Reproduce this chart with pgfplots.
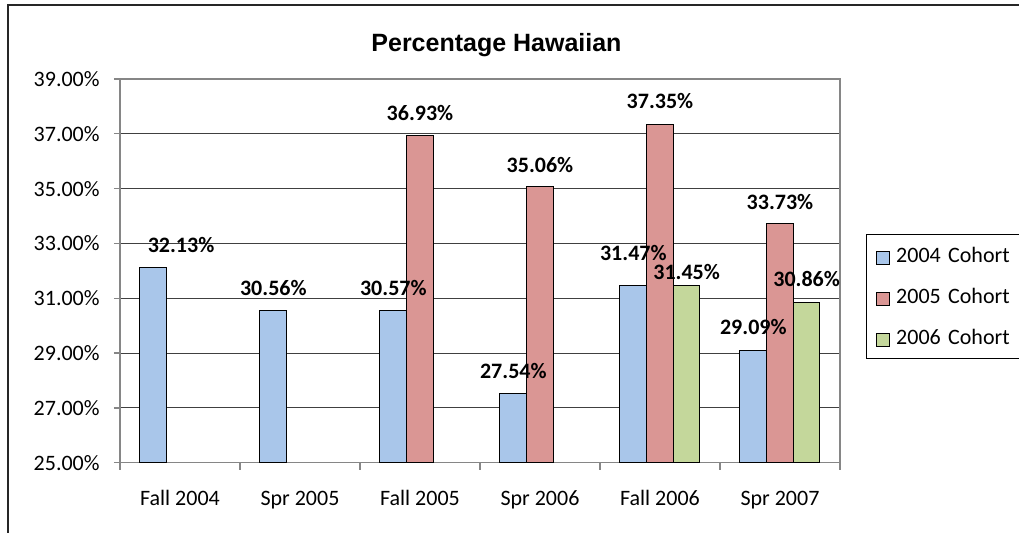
\documentclass[border=0pt]{standalone}
\usepackage{pgfplots}
\pgfplotsset{compat=1.18}
\usepackage{fontspec}
\setmainfont{Carlito}
\newfontfamily\arialfont{Liberation Sans}
\definecolor{cblue}{RGB}{169,198,234}
\definecolor{cred}{RGB}{218,150,148}
\definecolor{cgreen}{RGB}{196,215,155}
\definecolor{axgray}{RGB}{134,134,134}
\definecolor{gridc}{RGB}{64,64,64}
\begin{document}
\begin{tikzpicture}
\useasboundingbox (-60pt,-35.15pt) rectangle (449.5pt,231.35pt);
\draw[line width=0.75pt, black!85] (-56pt,-35.15pt) -- (-56pt,228.85pt) -- (449.5pt,228.85pt);
\begin{axis}[
  at={(0pt,0pt)}, anchor=south west,
  scale only axis, width=360pt, height=191.85pt,
  xmin=-0.5, xmax=5.5, ymin=25, ymax=39,
  ybar=0pt, bar width=13.333pt,
  /pgf/number format/assume math mode=true,
  xtick={0,...,5},
  xticklabels={Fall 2004, Spr 2005, Fall 2005, Spr 2006, Fall 2006, Spr 2007},
  ytick={25,27,...,39},
  yticklabels={25.00\%,27.00\%,29.00\%,31.00\%,33.00\%,35.00\%,37.00\%,39.00\%},
  tick pos=left, tick align=outside,
  major tick length=3pt,
  xtick style={draw=none},
  ytick style={draw=axgray, line width=0.65pt},
  extra x ticks={-0.5,0.5,...,5.5},
  extra x tick labels={},
  extra x tick style={grid=none, major tick length=3.5pt, xtick style={draw=axgray, line width=0.65pt}},
  ymajorgrids, grid style={draw=gridc, line width=0.5pt},
  axis line style={draw=axgray, line width=0.65pt},
  tick label style={font=\fontsize{11}{13}\selectfont},
  xticklabel style={anchor=base, inner sep=0pt, yshift=-18.65pt},
  yticklabel style={anchor=east, inner sep=0pt, xshift=-7pt},
  title={\arialfont\bfseries Percentage Hawaiian},
  title style={at={(axis description cs:0.5229,1.0711)}, anchor=base, yshift=-6pt, inner sep=0pt, font=\fontsize{12.5}{15}\selectfont},
  legend style={at={(1.0357,0.596)}, anchor=north west, draw=black, line width=0.5pt,
    inner xsep=5pt, inner ysep=0.25pt, font=\fontsize{11}{13}\selectfont,
    nodes={inner xsep=0pt, inner ysep=0pt, text height=13.75pt, text depth=6.75pt, text width=57pt},
    row sep=0pt, /tikz/every odd column/.append style={column sep=3pt}},
  legend cell align=left,
  nodes near coords={\pgfmathprintnumber[fixed,fixed zerofill,precision=2]{\pgfplotspointmeta}\%},
  every node near coord/.append style={font=\bfseries\fontsize{11}{13}\selectfont, anchor=center, inner sep=0pt, xshift=\dx pt, yshift=\dy pt},
  visualization depends on={\thisrow{dx} \as \dx},
  visualization depends on={\thisrow{dy} \as \dy},
]
\addplot[fill=cblue, draw=black, line width=0.5pt, point meta=y,
  legend image code/.code={\draw[fill=cblue, draw=black, line width=0.5pt] (0pt,-4.5pt) rectangle (6.5pt,2pt);}]
  table[x=x, y=y] {
x y dx dy
0 32.13 13.85 11.0
1 30.56 0 11.0
2 30.57 0 11.0
3 27.54 0 11.0
4 31.47 0 16.35
5 29.09 0 11.85
};
\addplot[fill=cred, draw=black, line width=0.5pt, point meta=y,
  legend image code/.code={\draw[fill=cred, draw=black, line width=0.5pt] (0pt,-4.5pt) rectangle (6.5pt,2pt);}]
  table[x=x, y=y] {
x y dx dy
2 36.93 0 11.35
3 35.06 0 11.0
4 37.35 0 11.4
5 33.73 0 10.75
};
\addplot[fill=cgreen, draw=black, line width=0.5pt, point meta=y,
  legend image code/.code={\draw[fill=cgreen, draw=black, line width=0.5pt] (0pt,-4.5pt) rectangle (6.5pt,2pt);}]
  table[x=x, y=y] {
x y dx dy
4 31.45 0 6.85
5 30.86 0 11.35
};
\legend{2004 Cohort, 2005 Cohort, 2006 Cohort}
\end{axis}
\end{tikzpicture}
\end{document}
